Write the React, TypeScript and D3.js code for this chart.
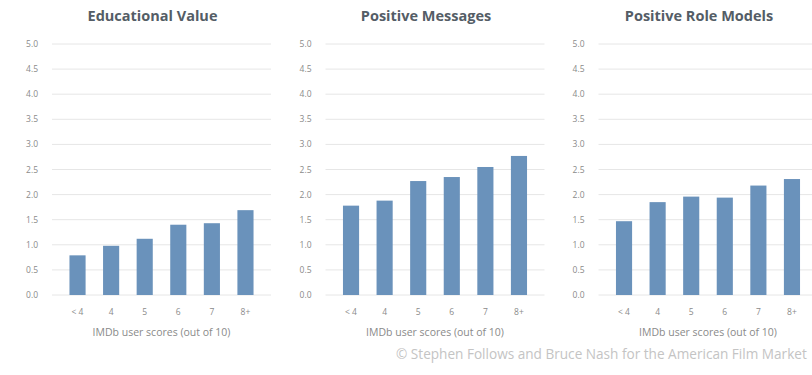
import React from "react";
import * as d3 from "d3";

const categories = ["< 4", "4", "5", "6", "7", "8+"];
const titles = ["Educational Value", "Positive Messages", "Positive Role Models"];
const educationalValue = [0.79, 0.98, 1.12, 1.4, 1.43, 1.69];
const positiveMessages = [1.78, 1.88, 2.27, 2.35, 2.55, 2.77];
const positiveRoleModels = [1.47, 1.85, 1.96, 1.94, 2.18, 2.31];
const yTicks = [0, 0.5, 1, 1.5, 2, 2.5, 3, 3.5, 4, 4.5, 5];
const xAxisTitle = "IMDb user scores (out of 10)";
const credit = "© Stephen Follows and Bruce Nash for the American Film Market";

const series = [educationalValue, positiveMessages, positiveRoleModels];
const panelLefts = [52, 325.5, 598.5];
const panelWidth = 219;
const top = 44;
const bottom = 295;
const font = "'Open Sans', 'Noto Sans', sans-serif";

export default function App() {
  const y = d3.scaleLinear().domain([0, 5]).range([bottom, top]);
  return (
    <svg width={812} height={375} style={{ position: "absolute", left: 0, top: 0, background: "#fff" }}>
      {series.map((vals, i) => {
        const left = panelLefts[i];
        const x = d3.scaleBand().domain(categories).range([left, left + panelWidth]).padding(0.52);
        return (
          <g key={i}>
            <text x={left + panelWidth / 2 - 9} y={21} textAnchor="middle" fontFamily={font} fontWeight={700} fontSize={14.5} fill="#545d66">
              {titles[i]}
            </text>
            {yTicks.map((t) => (
              <g key={t}>
                <line x1={left} x2={left + panelWidth} y1={y(t)} y2={y(t)} stroke="#e6e6e6" strokeWidth={1} />
                <text x={left - 14} y={y(t) + 3} textAnchor="end" fontFamily={font} fontSize={8.5} fill="#8a8a8a">
                  {t.toFixed(1)}
                </text>
              </g>
            ))}
            {vals.map((v, j) => (
              <rect key={j} x={x(categories[j])} y={y(v)} width={x.bandwidth()} height={y(0) - y(v)} fill="#6a92bb" />
            ))}
            {categories.map((c) => (
              <text key={c} x={(x(c) as number) + x.bandwidth() / 2} y={314.5} textAnchor="middle" fontFamily={font} fontSize={8.5} fill="#8a8a8a">
                {c}
              </text>
            ))}
            <text x={left + panelWidth / 2} y={335.5} textAnchor="middle" fontFamily={font} fontSize={10.5} fill="#8a8a8a">
              {xAxisTitle}
            </text>
          </g>
        );
      })}
      <text x={396} y={359} fontFamily={font} fontSize={13.6} fill="#c4c4c4">
        {credit}
      </text>
    </svg>
  );
}
